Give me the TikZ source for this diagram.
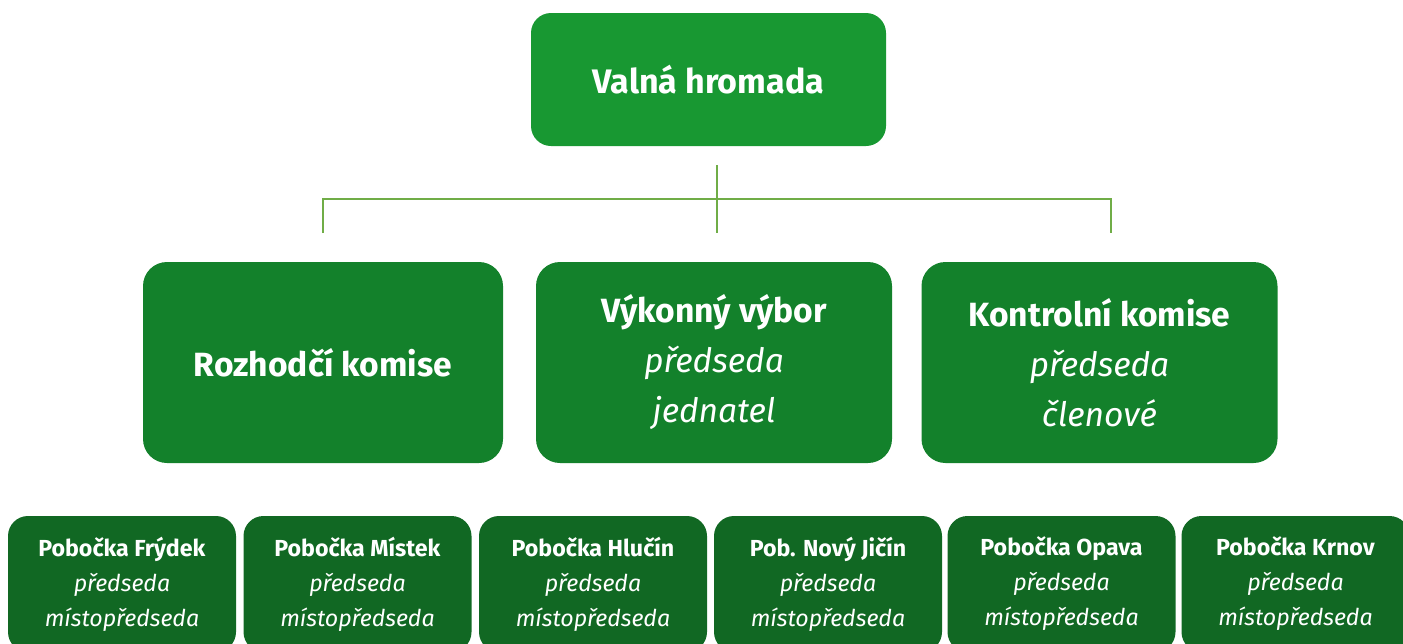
\documentclass[tikz,border=0pt]{standalone}
\usepackage{fontspec}
\setmainfont{Fira Sans}
\definecolor{topgreen}{RGB}{24,152,50}
\definecolor{midgreen}{RGB}{19,129,43}
\definecolor{lowgreen}{RGB}{17,104,35}
\definecolor{linkgreen}{RGB}{112,173,71}
\tikzset{
  topbox/.style={fill=topgreen, rounded corners=10pt, text=white,
    minimum width=177.5pt, minimum height=66.5pt,
    font=\fontsize{17}{20}\selectfont\bfseries},
  midbox/.style={fill=midgreen, rounded corners=12pt, text=white, align=center,
    minimum width=178pt, minimum height=100.5pt,
    font=\fontsize{16.8}{25}\selectfont},
  lowbox/.style={fill=lowgreen, rounded corners=10pt, text=white, align=center,
    minimum width=114pt, minimum height=68pt,
    font=\fontsize{11.6}{17.5}\selectfont},
  link/.style={draw=linkgreen, line width=0.7pt},
}
\begin{document}
\begin{tikzpicture}[x=0.5pt, y=-0.5pt]
\useasboundingbox (0,0) rectangle (1403,643);
    \newcommand{\role}[1]{\textit{\mdseries #1}}

  % top
  \node[topbox] (valna) at (708.5,79.5) {Valná hromada};

  % middle row
  \node[midbox, minimum width=180pt] (rozhodci) at (323,362.5) {\textbf{Rozhodčí komise}};
  \node[midbox] (vykonny) at (714,362.5) {\textbf{Výkonný výbor}\\ \role{předseda}\\ \role{jednatel}};
  \node[midbox] (kontrolni) at (1099.5,362.5) {\textbf{Kontrolní komise}\\ \role{předseda}\\ \role{členové}};

  % branches
  \node[lowbox] (frydek) at (122,584) {\textbf{Pobočka Frýdek}\\ \role{předseda}\\ \role{místopředseda}};
  \node[lowbox] (mistek) at (357.5,584) {\textbf{Pobočka Místek}\\ \role{předseda}\\ \role{místopředseda}};
  \node[lowbox] (hlucin) at (593,584) {\textbf{Pobočka Hlučín}\\ \role{předseda}\\ \role{místopředseda}};
  \node[lowbox] (jicin) at (828,584) {\textbf{Pob. Nový Jičín}\\ \role{předseda}\\ \role{místopředseda}};
  \node[lowbox] (opava) at (1061.5,584) {\textbf{Pobočka Opava}\\ \role{předseda}\\ \role{místopředseda}};
  \node[lowbox] (krnov) at (1295.5,584) {\textbf{Pobočka Krnov}\\ \role{předseda}\\ \role{místopředseda}};

  \coordinate (stem) at (717,165);
  \coordinate (hub) at (717,233);
  \coordinate (left) at (323,233);
  \coordinate (right) at (1111,233);

\draw[link] (stem) -- (hub);
\draw[link] (left) |- (717,199) -| (right);

\end{tikzpicture}
\end{document}
